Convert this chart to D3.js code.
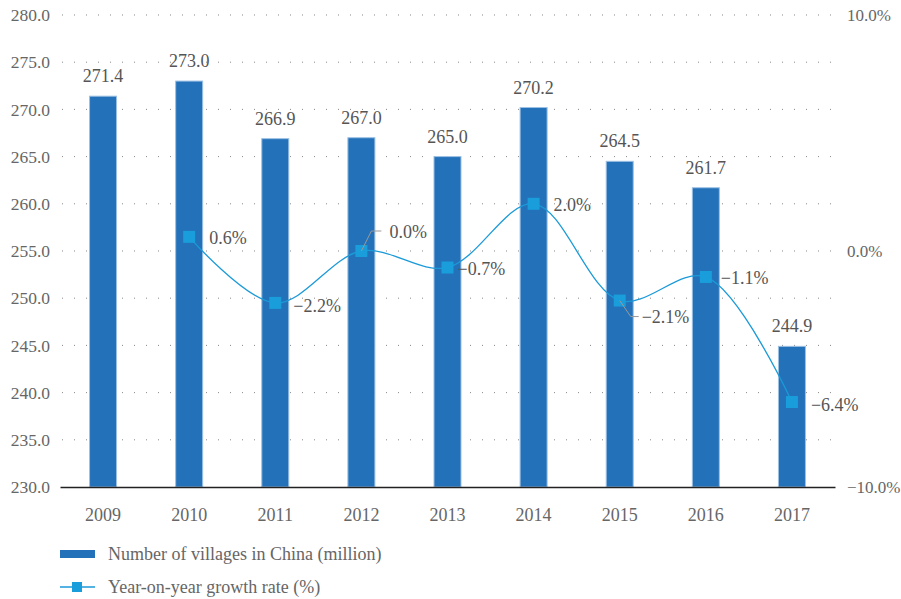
<!DOCTYPE html>
<html><head><meta charset="utf-8">
<script src="https://cdn.jsdelivr.net/npm/d3@7/dist/d3.min.js"></script>
<style>body{margin:0;background:#fff}svg{display:block}text{font-family:"Liberation Serif","DejaVu Serif",serif}</style>
</head><body>
<svg id="c" width="901" height="599"></svg>
<script>
const years = ["2009","2010","2011","2012","2013","2014","2015","2016","2017"];
const villages = [271.4,273.0,266.9,267.0,265.0,270.2,264.5,261.7,244.9];
const growthYears = ["2010","2011","2012","2013","2014","2015","2016","2017"];
const growth = [0.6,-2.2,0.0,-0.7,2.0,-2.1,-1.1,-6.4];
const leftTicks = [230,235,240,245,250,255,260,265,270,275,280];
const rightTicks = [-10,0,10];
const seriesNames = ["Number of villages in China (million)","Year-on-year growth rate (%)"];

const svg = d3.select("#c");
const L = 60, R = 835, T = 15, B = 487;
const FS = 18;
const x = d3.scaleBand().domain(years).range([L, R]).padding(0);
const yL = d3.scaleLinear().domain([230,280]).range([B,T]);
const yR = d3.scaleLinear().domain([-10,10]).range([B,T]);
const fmt = v => (v<0?"\u2212":"") + Math.abs(v).toFixed(1);
const txtColor = "#666";
const barColor = "#2371b9", lineColor = "#1b9ad8", markColor = "#1a9ddb";

// gridlines
svg.append("g").selectAll("line").data(leftTicks.filter(t=>t>230)).join("line")
  .attr("x1", L+2).attr("x2", R).attr("y1", d=>yL(d)).attr("y2", d=>yL(d))
  .attr("stroke","#888").attr("stroke-width",1).attr("stroke-dasharray","1,11");

// left axis
const gL = svg.append("g").attr("transform",`translate(${L},0)`)
  .call(d3.axisLeft(yL).tickValues(leftTicks).tickFormat(d=>d.toFixed(1)).tickSize(0).tickPadding(10));
gL.select(".domain").remove();
gL.selectAll("text").attr("font-size",17.5).attr("fill",txtColor).attr("font-family","Liberation Serif");

// right axis
const gR = svg.append("g").attr("transform",`translate(${R},0)`)
  .call(d3.axisRight(yR).tickValues(rightTicks).tickFormat(d=>fmt(d)+"%").tickSize(0).tickPadding(12));
gR.select(".domain").remove();
gR.selectAll("text").attr("font-size",17).attr("fill",txtColor).attr("font-family","Liberation Serif");

// bars
const bw = 27;
svg.append("g").selectAll("rect").data(years.map((y,i)=>({y,v:villages[i]}))).join("rect")
  .attr("x", d=>x(d.y)+x.bandwidth()/2-bw/2).attr("width", bw)
  .attr("y", d=>yL(d.v)).attr("height", d=>B-yL(d.v))
  .attr("fill", barColor).attr("stroke","#9cc0e4").attr("stroke-width",1);

// bar labels
svg.append("g").selectAll("text").data(years.map((y,i)=>({y,v:villages[i]}))).join("text")
  .attr("x", d=>x(d.y)+x.bandwidth()/2).attr("y", d=>yL(d.v)-14)
  .attr("text-anchor","middle").attr("font-size",FS).attr("fill","#555").text(d=>fmt(d.v));

// x axis
const gX = svg.append("g").attr("transform",`translate(0,${B})`)
  .call(d3.axisBottom(x).tickSize(0).tickPadding(21));
gX.select(".domain").attr("stroke","#222").attr("stroke-width",1.3);
gX.selectAll("text").attr("font-size",FS).attr("fill",txtColor).attr("font-family","Liberation Serif");

// growth line
const pts = growthYears.map((y,i)=>({y,v:growth[i],px:x(y)+x.bandwidth()/2,py:yR(growth[i])}));
svg.append("path").datum(pts)
  .attr("d", d3.line().x(d=>d.px).y(d=>d.py).curve(d3.curveCatmullRom.alpha(0.5)))
  .attr("fill","none").attr("stroke",lineColor).attr("stroke-width",1.3);
const ms = 12;
svg.append("g").selectAll("rect").data(pts).join("rect")
  .attr("x", d=>d.px-ms/2).attr("y", d=>d.py-ms/2).attr("width",ms).attr("height",ms)
  .attr("fill",markColor);

// growth labels
const offs = {"2010":[20,7],"2011":[18,9],"2012":[28,-13],"2013":[10,7],"2014":[20,7],"2015":[22,22],"2016":[15,7],"2017":[19,9]};
svg.append("g").selectAll("text").data(pts).join("text")
  .attr("x", d=>d.px+offs[d.y][0]).attr("y", d=>d.py+offs[d.y][1])
  .attr("font-size",FS).attr("fill","#555").text(d=>fmt(d.v)+"%");
// leader lines
const leaders = pts.filter(d=>d.y==="2012"||d.y==="2015");
svg.append("g").selectAll("path").data(leaders).join("path")
  .attr("d", d=> d.y==="2012"
     ? `M${d.px},${d.py} L${d.px+10},${d.py-20} L${d.px+20},${d.py-20}`
     : `M${d.px},${d.py} L${d.px+11},${d.py+16} L${d.px+19},${d.py+16}`)
  .attr("fill","none").attr("stroke","#999").attr("stroke-width",1);

// legend
const lg = svg.append("g");
lg.append("rect").attr("x",60).attr("y",550).attr("width",35).attr("height",8).attr("fill",barColor);
lg.append("text").attr("x",108).attr("y",560).attr("font-size",FS).attr("fill",txtColor).text(seriesNames[0]);
lg.append("line").attr("x1",60).attr("x2",95).attr("y1",587).attr("y2",587).attr("stroke",lineColor).attr("stroke-width",1.3);
lg.append("rect").attr("x",72).attr("y",582).attr("width",10).attr("height",10).attr("fill",markColor);
lg.append("text").attr("x",108).attr("y",593).attr("font-size",FS).attr("fill",txtColor).text(seriesNames[1]);
</script>
</body></html>
